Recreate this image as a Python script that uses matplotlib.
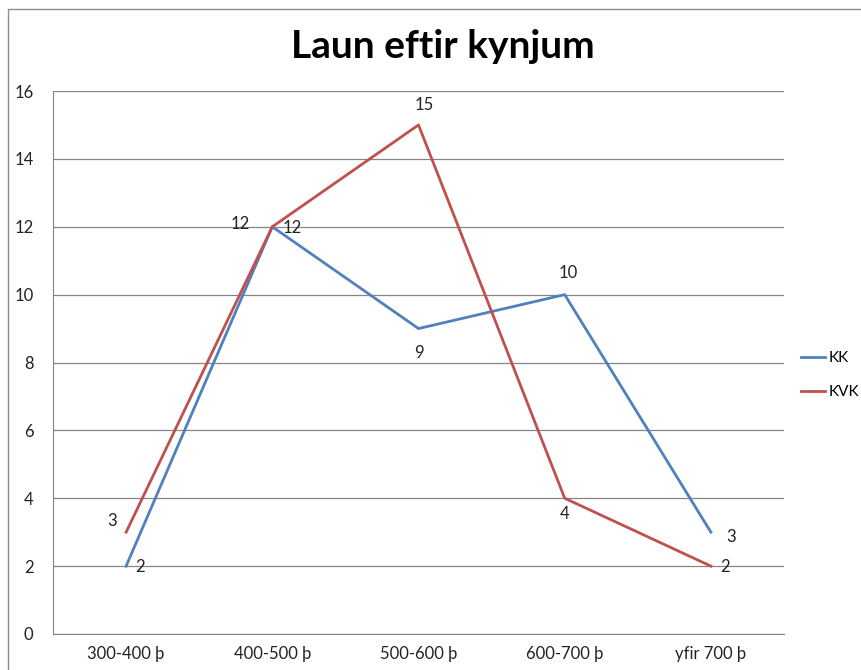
import matplotlib
matplotlib.use("Agg")
import matplotlib.pyplot as plt
from matplotlib.patches import Rectangle
from matplotlib.lines import Line2D

categories = ["300-400 þ", "400-500 þ", "500-600 þ", "600-700 þ", "yfir 700 þ"]
kk = [2, 12, 9, 10, 3]
kvk = [3, 12, 15, 4, 2]
series_names = ["KK", "KVK"]
title = "Laun eftir kynjum"

W, H = 862, 670
plt.rcParams['font.family'] = ['Lato', 'DejaVu Sans']
fig = plt.figure(figsize=(W / 100, H / 100), dpi=100)

fig.patches.append(Rectangle((8 / W, -0.1), 1.2, (H - 9) / H + 0.1, transform=fig.transFigure,
                             fill=False, edgecolor='#8c8c8c', linewidth=1.0))

ax = fig.add_axes([53 / W, (H - 634) / H, (784 - 53) / W, (634 - 91) / H])
x = list(range(len(categories)))
blue = '#4F81BD'
red = '#C0504D'
ax.plot(x, kk, color=blue, linewidth=2.0, zorder=3)
ax.plot(x, kvk, color=red, linewidth=2.0, zorder=3)

ax.set_xlim(-0.5, len(categories) - 0.5)
ax.set_ylim(0, 16)
ax.set_yticks(range(0, 17, 2))
ax.set_xticks(x)
ax.set_xticklabels(categories)
ax.tick_params(axis='both', length=0, labelsize=12, colors='#222222')
ax.tick_params(axis='y', pad=14)
ax.tick_params(axis='x', pad=9)
ax.grid(axis='y', color='#868686', linewidth=0.9)
ax.set_axisbelow(True)
for s in ['top', 'right']:
    ax.spines[s].set_visible(False)
ax.spines['left'].set_color('#868686')
ax.spines['bottom'].set_color('#868686')

# data labels offsets in px: (dx, dy)
kk_pos = [(14, -1), (20, -1), (0, -24), (4, 22), (20, -5)]
kvk_pos = [(-14, 11), (-32, 3), (6, 20), (0, -16), (14, -1)]
for vals, pos in [(kk, kk_pos), (kvk, kvk_pos)]:
    for i, v in enumerate(vals):
        dx, dy = pos[i]
        ax.annotate(str(v), (i, v), xytext=(dx * 0.72, dy * 0.72), textcoords='offset points',
                    ha='center', va='center', fontsize=12, color='#222222')

fig.text(443 / W, 1 - 47 / H, title, ha='center', va='center', fontsize=28, fontweight='bold')

handles = [Line2D([], [], color=blue, linewidth=2.0), Line2D([], [], color=red, linewidth=2.0)]
fig.legend(handles, series_names, loc='center left', bbox_to_anchor=(801 / W, 1 - 375 / H),
           frameon=False, fontsize=11, handlelength=1.6, handletextpad=0.2, labelspacing=1.3,
           borderpad=0.0, borderaxespad=0.0)

fig.savefig("out.png", dpi=100)
